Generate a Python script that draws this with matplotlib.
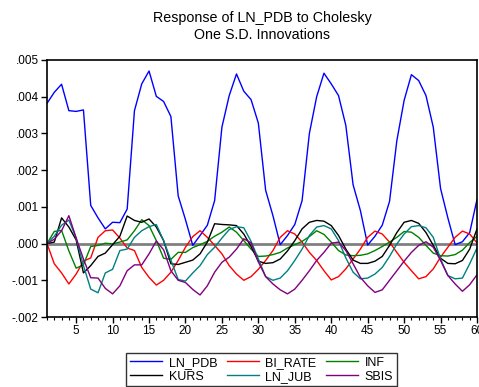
import matplotlib
matplotlib.use("Agg")
import matplotlib.pyplot as plt
from matplotlib.ticker import MultipleLocator, FuncFormatter

plt.rcParams["font.family"] = ["Liberation Sans", "DejaVu Sans"]

periods = list(range(1, 61))

ln_pdb = [0.00382, 0.00412, 0.00434, 0.00362, 0.00360, 0.00364, 0.00104, 0.00070, 0.00040, 0.00058,
          0.00057, 0.00094, 0.00362, 0.00435, 0.00470, 0.00401, 0.00387, 0.00346, 0.00130, 0.00065,
          -0.00005, 0.00022, 0.00050, 0.00117, 0.00317, 0.00403, 0.00462, 0.00415, 0.00392, 0.00328,
          0.00145, 0.00076, -0.00003, 0.00022, 0.00052, 0.00117, 0.00300, 0.00400, 0.00464, 0.00435,
          0.00403, 0.00322, 0.00160, 0.00090, -0.00004, 0.00020, 0.00050, 0.00115, 0.00280, 0.00390,
          0.00460, 0.00444, 0.00403, 0.00317, 0.00150, 0.00070, -0.00003, 0.00005, 0.00030, 0.00120]

bi_rate = [0.0, -0.00055, -0.00080, -0.00110, -0.00083, -0.00048, -0.00039, 0.00017, 0.00035, 0.00037,
           0.00015, -0.00012, -0.00019, -0.00065, -0.00092, -0.00113, -0.00100, -0.00078, -0.00046, -0.00010,
           0.00019, 0.00035, 0.00017, -0.00005, -0.00028, -0.00060, -0.00083, -0.00100, -0.00090, -0.00070,
           -0.00046, -0.00019, 0.00017, 0.00035, 0.00026, 0.00004, -0.00024, -0.00046, -0.00074, -0.00099,
           -0.00090, -0.00069, -0.00042, -0.00015, 0.00017, 0.00034, 0.00026, 0.00004, -0.00024, -0.00051,
           -0.00074, -0.00096, -0.00090, -0.00069, -0.00037, -0.00010, 0.00017, 0.00034, 0.00026, 0.00002]

inf = [0.0, 0.00033, 0.00036, -0.00020, -0.00067, -0.00058, -0.00008, -0.00005, 0.00001, -0.00001,
       0.00004, 0.00010, 0.00035, 0.00065, 0.00049, 0.00008, -0.00040, -0.00043, -0.00024, -0.00024,
       -0.00011, -0.00003, 0.00006, 0.00020, 0.00031, 0.00045, 0.00031, 0.00008, -0.00015, -0.00035,
       -0.00034, -0.00030, -0.00024, -0.00012, -0.00003, 0.00006, 0.00019, 0.00035, 0.00025, 0.00004,
       -0.00019, -0.00031, -0.00033, -0.00032, -0.00028, -0.00019, -0.00008, 0.00004, 0.00017, 0.00033,
       0.00031, 0.00017, -0.00005, -0.00026, -0.00033, -0.00034, -0.00030, -0.00018, 0.00003, 0.00020]

kurs = [0.0, 0.00004, 0.00070, 0.00045, 0.00010, -0.00080, -0.00060, -0.00035, -0.00026, -0.00003,
        0.00020, 0.00075, 0.00063, 0.00058, 0.00067, 0.00045, 0.00008, -0.00055, -0.00057, -0.00051,
        -0.00045, -0.00028, 0.00004, 0.00054, 0.00052, 0.00051, 0.00049, 0.00026, -0.00008, -0.00048,
        -0.00054, -0.00052, -0.00042, -0.00020, 0.00008, 0.00040, 0.00058, 0.00063, 0.00061, 0.00049,
        0.00022, -0.00015, -0.00045, -0.00054, -0.00054, -0.00048, -0.00035, -0.00005, 0.00030, 0.00058,
        0.00063, 0.00055, 0.00030, -0.00005, -0.00040, -0.00054, -0.00055, -0.00046, -0.00015, 0.00040]

ln_jub = [0.0, 0.00020, 0.00050, 0.00064, 0.00015, -0.00060, -0.00124, -0.00134, -0.00080, -0.00070,
          -0.00019, -0.00015, 0.00017, 0.00035, 0.00046, 0.00052, 0.00008, -0.00045, -0.00098, -0.00102,
          -0.00080, -0.00060, -0.00030, -0.00010, 0.00015, 0.00038, 0.00046, 0.00043, 0.00006, -0.00042,
          -0.00090, -0.00100, -0.00094, -0.00074, -0.00046, -0.00015, 0.00022, 0.00045, 0.00049, 0.00040,
          0.00008, -0.00039, -0.00078, -0.00096, -0.00094, -0.00083, -0.00065, -0.00035, -0.00001, 0.00026,
          0.00046, 0.00049, 0.00043, 0.00017, -0.00042, -0.00087, -0.00096, -0.00094, -0.00055, -0.00012]

sbis = [0.0, 0.00012, 0.00035, 0.00076, 0.00015, -0.00042, -0.00093, -0.00094, -0.00122, -0.00137,
        -0.00115, -0.00074, -0.00058, -0.00058, -0.00028, 0.00007, -0.00017, -0.00074, -0.00100, -0.00106,
        -0.00125, -0.00140, -0.00115, -0.00078, -0.00051, -0.00037, -0.00015, 0.00013, 0.00002, -0.00050,
        -0.00090, -0.00110, -0.00126, -0.00137, -0.00124, -0.00100, -0.00074, -0.00046, -0.00024, 0.00001,
        0.00004, -0.00019, -0.00055, -0.00092, -0.00115, -0.00133, -0.00126, -0.00100, -0.00074, -0.00048,
        -0.00024, -0.00005, 0.00005, -0.00010, -0.00046, -0.00087, -0.00110, -0.00130, -0.00112, -0.00085]

series = [
    ("LN_PDB", ln_pdb, "#0000ff"),
    ("BI_RATE", bi_rate, "#ff0000"),
    ("INF", inf, "#008000"),
    ("KURS", kurs, "#000000"),
    ("LN_JUB", ln_jub, "#008080"),
    ("SBIS", sbis, "#800080"),
]

fig = plt.figure(figsize=(4.79, 3.87), dpi=100)
ax = fig.add_axes([47 / 479, 1 - 317 / 387, 430 / 479, 257 / 387])

# zero reference line
ax.axhline(0, color="#808080", lw=2.0, zorder=1)
lines = {}
for name, vals, col in series:
    (ln,) = ax.plot(periods, vals, color=col, lw=1.0, label=name, zorder=2)
    lines[name] = ln

ax.set_xlim(1, 60)
ax.set_ylim(-0.002, 0.005)

ax.xaxis.set_major_locator(MultipleLocator(5))
ax.xaxis.set_minor_locator(MultipleLocator(1))
ax.yaxis.set_major_locator(MultipleLocator(0.001))


def yfmt(v, pos):
    # EViews style: .005, -.001
    return f"{v:.3f}".replace("0.", ".", 1)


ax.yaxis.set_major_formatter(FuncFormatter(yfmt))
ax.tick_params(axis="both", which="major", direction="out", length=4, width=1, labelsize=8.5, pad=2)
ax.tick_params(axis="x", which="minor", direction="out", length=2, width=0.8)
ax.tick_params(axis="y", which="minor", length=0)
for sp in ax.spines.values():
    sp.set_linewidth(1.2)

ax.set_title("Response of LN_PDB to Cholesky\nOne S.D. Innovations", fontsize=10.3, pad=15,
             linespacing=1.25)

# ncol legend fills column-wise, so interleave the two rows
order = ["LN_PDB", "KURS", "BI_RATE", "LN_JUB", "INF", "SBIS"]
leg = fig.legend([lines[n] for n in order], order, ncol=3, loc="upper center",
                 bbox_to_anchor=(261.5 / 479, 1 - 353 / 387), fontsize=9, frameon=True,
                 fancybox=False, edgecolor="black", handlelength=2.6, handletextpad=0.5,
                 columnspacing=0.75, borderpad=0.3, labelspacing=0.15, borderaxespad=0)
leg.get_frame().set_linewidth(1.0)

fig.savefig("out.png", dpi=100)
